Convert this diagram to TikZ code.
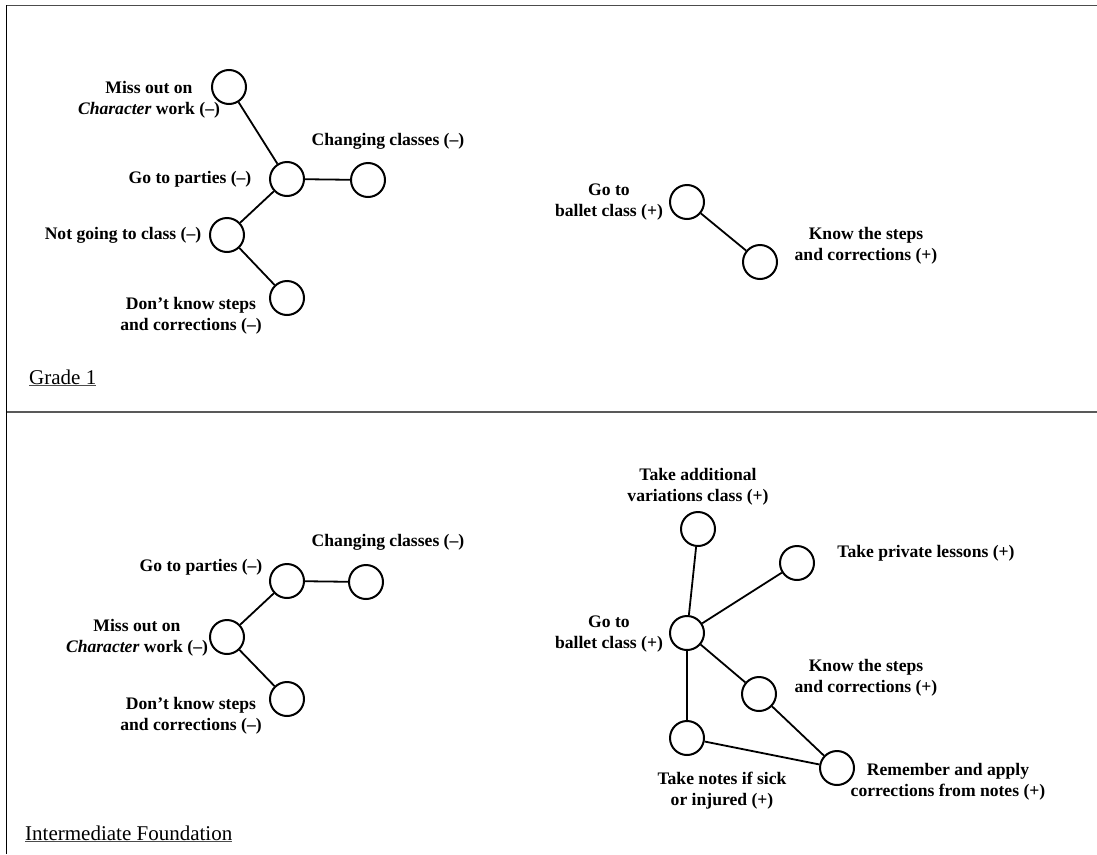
\documentclass[tikz,border=0pt]{standalone}
\usepackage{fontspec}
\setmainfont{Liberation Serif}
\usetikzlibrary{calc}

\tikzset{
  bubble/.style={circle, draw, line width=2pt, minimum size=34pt, inner sep=0pt},
  tag/.style={font=\fontsize{17.6}{21}\selectfont\bfseries, align=center, inner sep=0pt},
  link/.style={line width=1.8pt},
  gradename/.style={font=\fontsize{21}{24}\selectfont, anchor=base west, inner sep=0pt}
}

\begin{document}
\begin{tikzpicture}[x=1pt, y=-1pt]
    \useasboundingbox (0,0) rectangle (1097,854);
    % frame and divider
    \draw[line width=1.6pt, black!70] (6,5.5) -- (1097,5.5);
    \draw[line width=1.6pt, black!65] (6,412) -- (1097,412);
    \draw[line width=1.4pt] (6.3,5) -- (6.3,854);

    % Grade 1, left tree
    \node[bubble] (gMiss) at (229,87) {};
    \node[bubble] (gParty) at (287,179) {};
    \node[bubble] (gChange) at (368,180) {};
    \node[bubble] (gSkip) at (227,235) {};
    \node[bubble] (gDont) at (287,298) {};
    \draw[link] (gMiss) -- (gParty);
    \draw[link] (gParty) -- (gChange);
    \draw[link] (gParty) -- (gSkip);
    \draw[link] (gSkip) -- (gDont);
    \node[tag] (tgMiss) at (149,100) {Miss out on\\\textit{Character} work (--)};
    \node[tag] (tgChange) at (388,141) {Changing classes (--)};
    \node[tag] (tgParty) at (190,179) {Go to parties (--)};
    \node[tag] (tgSkip) at (123,235) {Not going to class (--)};
    \node[tag] (tgDont) at (191,316) {Don't know steps\\and corrections (--)};

    % Grade 1, right tree
    \node[bubble] (gBallet) at (687,202) {};
    \node[bubble] (gKnow) at (760,262) {};
    \draw[link] (gBallet) -- (gKnow);
    \node[tag] (tgBallet) at (609,202) {Go to\\ballet class (+)};
    \node[tag] (tgKnow) at (866,246) {Know the steps\\and corrections (+)};

    \node[gradename] (grade) at (29,384) {Grade 1};
    \draw[line width=0.7pt, black!70] ($(grade.south west)+(0,1)$) -- ($(grade.south east)+(0,1)$);

    % Intermediate Foundation, left tree
    \node[bubble] (iParty) at (287,581) {};
    \node[bubble] (iChange) at (366,582) {};
    \node[bubble] (iMiss) at (227,637) {};
    \node[bubble] (iDont) at (287,699) {};
    \draw[link] (iParty) -- (iChange);
    \draw[link] (iParty) -- (iMiss);
    \draw[link] (iMiss) -- (iDont);
    \node[tag] (tiChange) at (388,542) {Changing classes (--)};
    \node[tag] (tiParty) at (201,567) {Go to parties (--)};
    \node[tag] (tiMiss) at (137,638) {Miss out on\\\textit{Character} work (--)};
    \node[tag] (tiDont) at (191,716) {Don't know steps\\and corrections (--)};

    % Intermediate Foundation, right tree
    \node[bubble] (iExtra) at (698,529) {};
    \node[bubble] (iPrivate) at (797,563) {};
    \node[bubble] (iBallet) at (687,633) {};
    \node[bubble] (iKnow) at (759,694) {};
    \node[bubble] (iNotes) at (687,738) {};
    \node[bubble] (iApply) at (837,768) {};
    \draw[link] (iBallet) -- (iExtra);
    \draw[link] (iBallet) -- (iPrivate);
    \draw[link] (iBallet) -- (iKnow);
    \draw[link] (iBallet) -- (iNotes);
    \draw[link] (iKnow) -- (iApply);
    \draw[link] (iNotes) -- (iApply);
    \node[tag] (tiExtra) at (698,487) {Take additional\\variations class (+)};
    \node[tag] (tiPrivate) at (926,553) {Take private lessons (+)};
    \node[tag] (tiBallet) at (609,634) {Go to\\ballet class (+)};
    \node[tag] (tiKnow) at (866,678) {Know the steps\\and corrections (+)};
    \node[tag] (tiApply) at (948,782) {Remember and apply\\corrections from notes (+)};
    \node[tag] (tiNotes) at (722,791) {Take notes if sick\\or injured (+)};

    \node[gradename] (level) at (25,840) {Intermediate Foundation};
    \draw[line width=0.7pt, black!70] ($(level.south west)+(0,1)$) -- ($(level.south east)+(0,1)$);
  \end{tikzpicture}
\end{document}
